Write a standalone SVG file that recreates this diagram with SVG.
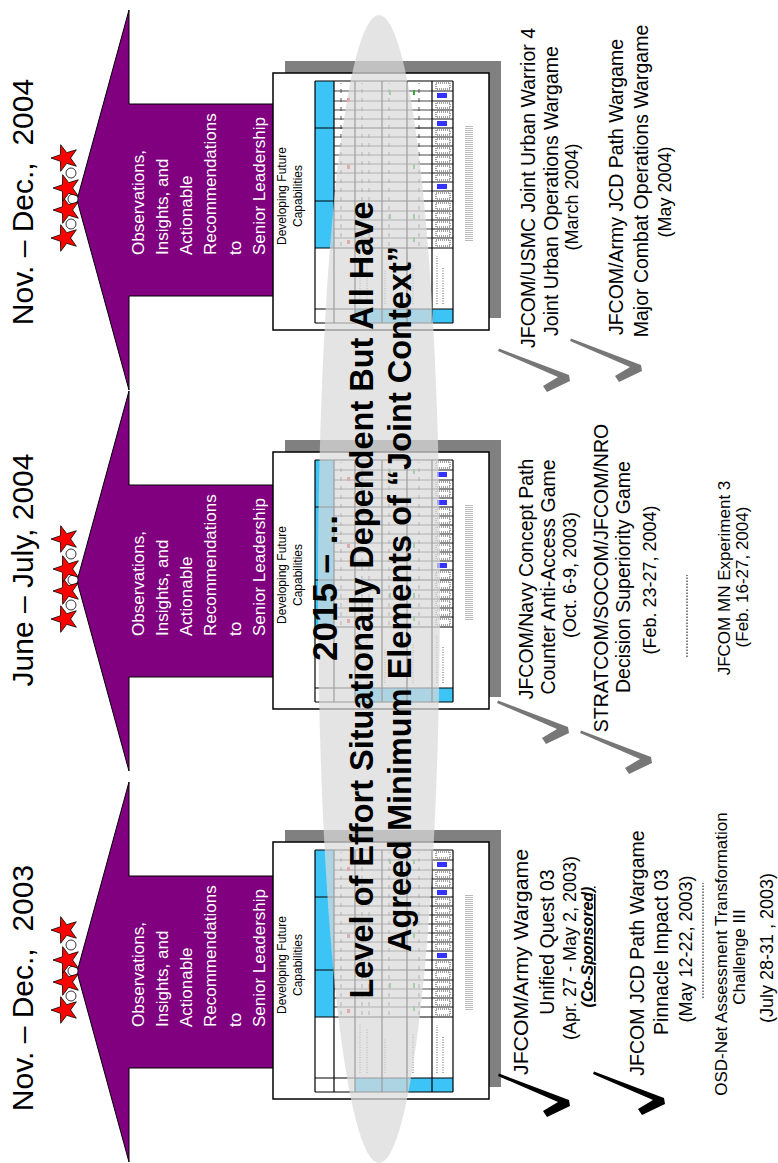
<svg xmlns="http://www.w3.org/2000/svg" width="778" height="1163" viewBox="0 0 778 1163">
<style>
  .date{font-family:'Liberation Sans',Arial,sans-serif;font-size:30px;fill:#000;text-anchor:middle}
  .arrow{fill:#800080;stroke:#000;stroke-width:1}
  .atxt{font-family:'Liberation Sans',Arial,sans-serif;font-size:17px;fill:#fff}
  .star{fill:#f00;stroke:#000;stroke-width:0.8}
  .dot{fill:#fff;stroke:#000;stroke-width:0.8}
  .title{font-family:'Liberation Sans',Arial,sans-serif;font-size:12px;fill:#000;text-anchor:middle}
  .evt{font-family:'Liberation Sans',Arial,sans-serif;font-size:19.5px;fill:#000;text-anchor:middle}
  .sm{font-size:18px}
  .xs{font-size:17px}
  .cosp{font-weight:bold;font-style:italic;font-size:16px;text-decoration:underline}
  .big{font-family:'Liberation Sans',Arial,sans-serif;font-weight:bold;font-size:32.5px;fill:#000;text-anchor:middle}
  .sep{stroke:#000;stroke-width:1;stroke-dasharray:1.5 1.5;fill:none}
  .tick-k{fill:#000}
  .tick-g{fill:#777}
</style>
<defs>
  <polygon id="star" points="0,-14 3.29,-4.53 13.31,-4.33 5.33,1.73 8.23,11.33 0,5.6 -8.23,11.33 -5.33,1.73 -13.31,-4.33 -3.29,-4.53"/>
  <path id="tick" d="M29,-70L31.5,-69L5,1L-1,2L-12,-21L-6,-25L3,-10Z"/>
  <!-- spreadsheet thumbnail card with drop shadow -->
  <g id="sheet">
    <rect x="12" y="12" width="257" height="216" fill="#808080"/>
    <rect width="257" height="216" fill="#fff" stroke="#000" stroke-width="1.5"/>
    <rect x="82" y="42" width="167" height="19" fill="#3cc4f6"/>
    <rect x="7" y="82" width="14" height="98" fill="#3cc4f6"/>
    <path d="M26 87H76M26 94H70M26 112H60M26 134H78M26 140H66M26 164H74M26 170H62" stroke="#777" stroke-width="1.2" stroke-dasharray="1 1.5" fill="none"/>
    <path d="M84 68H247M84 89H247M84 96H200M84 116H247M84 146H247" stroke="#aaa" stroke-width="2" stroke-dasharray="4 5" fill="none"/>
    <path d="M92 61V159M101 61V159M110 61V159M119 61V159M139 61V159M148 61V159M157 61V159M166 61V159M175 61V159M184 61V159M193 61V159M211 61V159M220 61V159M229 61V159M239 61V159" stroke="#333" stroke-width="0.9" fill="none"/>
    <path d="M92 159V180M101 159V180M110 159V180M119 159V180M139 159V180M148 159V180M157 159V180M166 159V180M175 159V180M184 159V180M193 159V180M211 159V180M220 159V180M229 159V180M239 159V180" stroke="#000" stroke-width="0.9" fill="none"/>
    <path d="M84 163H90V177H84ZM94 163H99V177H94ZM103 163H108V177H103ZM112 163H117V177H112ZM121 163H127V177H121ZM131 163H137V177H131ZM150 163H155V177H150ZM159 163H164V177H159ZM168 163H173V177H168ZM177 163H182V177H177ZM186 163H191V177H186ZM195 163H200V177H195ZM213 163H218V177H213ZM222 163H227V177H222ZM241 163H247V177H241Z" fill="none" stroke="#333" stroke-width="0.9" stroke-dasharray="1 1"/>
    <path d="M7 42H249M7 61H249M7 82H249M7 109H249M7 134H249M7 159H249M7 180H249M7 42V180M21 42V180M82 42V180M129 42V180M202 42V180M249 42V180" stroke="#000" stroke-width="1.2" fill="none"/>
    <g fill="#e33">
      <rect x="86" y="74" width="4" height="3"/><rect x="161" y="74" width="4" height="3"/><rect x="228" y="74" width="4" height="3"/>
    </g>
    <g fill="#3a3">
      <rect x="88" y="140" width="5" height="2"/><rect x="111" y="140" width="5" height="2"/><rect x="161" y="140" width="5" height="2"/><rect x="235" y="140" width="5" height="2"/>
      <rect x="111" y="116" width="5" height="2"/><rect x="235" y="116" width="5" height="2"/>
    </g>
    <g fill="#33f">
      <rect x="141" y="164" width="5" height="10"/><rect x="204" y="164" width="5" height="10"/><rect x="232" y="164" width="5" height="10"/>
    </g>
    <path d="M89 196H204" stroke="#bbb" stroke-width="8" stroke-dasharray="1 1" fill="none"/>
  </g>
</defs>

<!-- landscape layout, turned a quarter turn counter-clockwise onto the page -->
<g transform="translate(0,1163) rotate(-90)">

  <!-- milestone: Nov.-Dec. 2003 -->
  <g id="milestone-2003">
    <text class="date" x="175" y="33" xml:space="preserve">Nov. – Dec.,  2003</text>
    <polygon class="arrow" points="95,275 95,129 1,129 191,77 381,129 287,129 287,275"/>
    <circle class="dot" cx="167" cy="71" r="5"/><circle class="dot" cx="192" cy="73" r="5"/><circle class="dot" cx="218" cy="71" r="5"/>
    <use href="#star" class="star" x="153" y="65"/><use href="#star" class="star" x="181" y="67"/>
    <use href="#star" class="star" x="203" y="67"/><use href="#star" class="star" x="233" y="65"/>
    <text class="atxt" x="136" y="144">Observations,</text>
    <text class="atxt" x="136" y="168">Insights, and</text>
    <text class="atxt" x="136" y="192">Actionable</text>
    <text class="atxt" x="136" y="216">Recommendations</text>
    <text class="atxt" x="136" y="241">to</text>
    <text class="atxt" x="136" y="265">Senior Leadership</text>
  </g>

  <!-- milestone: June-July 2004 -->
  <g id="milestone-2004a">
    <text class="date" x="593" y="33">June – July, 2004</text>
    <polygon class="arrow" points="486,275 486,129 392,129 582,77 772,129 678,129 678,275"/>
    <circle class="dot" cx="558" cy="71" r="5"/><circle class="dot" cx="583" cy="73" r="5"/><circle class="dot" cx="609" cy="71" r="5"/>
    <use href="#star" class="star" x="544" y="65"/><use href="#star" class="star" x="572" y="67"/>
    <use href="#star" class="star" x="594" y="67"/><use href="#star" class="star" x="624" y="65"/>
    <text class="atxt" x="527" y="144">Observations,</text>
    <text class="atxt" x="527" y="168">Insights, and</text>
    <text class="atxt" x="527" y="192">Actionable</text>
    <text class="atxt" x="527" y="216">Recommendations</text>
    <text class="atxt" x="527" y="241">to</text>
    <text class="atxt" x="527" y="265">Senior Leadership</text>
  </g>

  <!-- milestone: Nov.-Dec. 2004 -->
  <g id="milestone-2004b">
    <text class="date" x="961" y="33" xml:space="preserve">Nov. – Dec.,  2004</text>
    <polygon class="arrow" points="867,275 867,129 773,129 963,77 1153,129 1059,129 1059,275"/>
    <circle class="dot" cx="939" cy="71" r="5"/><circle class="dot" cx="964" cy="73" r="5"/><circle class="dot" cx="990" cy="71" r="5"/>
    <use href="#star" class="star" x="925" y="65"/><use href="#star" class="star" x="953" y="67"/>
    <use href="#star" class="star" x="975" y="67"/><use href="#star" class="star" x="1005" y="65"/>
    <text class="atxt" x="908" y="144">Observations,</text>
    <text class="atxt" x="908" y="168">Insights, and</text>
    <text class="atxt" x="908" y="192">Actionable</text>
    <text class="atxt" x="908" y="216">Recommendations</text>
    <text class="atxt" x="908" y="241">to</text>
    <text class="atxt" x="908" y="265">Senior Leadership</text>
  </g>

  <!-- capability worksheets -->
  <g id="sheet-2003">
    <use href="#sheet" transform="translate(64,273)"/>
    <text class="title" x="198" y="286">Developing Future</text>
    <text class="title" x="198" y="302">Capabilities</text>
  </g>
  <g id="sheet-2004a">
    <use href="#sheet" transform="translate(454,273)"/>
    <text class="title" x="588" y="286">Developing Future</text>
    <text class="title" x="588" y="302">Capabilities</text>
  </g>
  <g id="sheet-2004b">
    <use href="#sheet" transform="translate(833,273)"/>
    <text class="title" x="967" y="286">Developing Future</text>
    <text class="title" x="967" y="302">Capabilities</text>
  </g>

  <!-- translucent band across all three worksheets -->
  <g id="band">
    <ellipse cx="574" cy="379" rx="574" ry="61" fill="#d9d9d9" fill-opacity="0.72"/>
    <text class="big" x="575" y="337" style="font-size:35px">2015 – ...</text>
    <text class="big" x="563" y="373">Level of Effort Situationally Dependent But All Have</text>
    <text class="big" x="564" y="411">Agreed Minimum Elements of “Joint Context”</text>
  </g>

  <!-- events feeding each milestone -->
  <g id="events-2003">
    <text class="evt" x="201" y="528" textLength="226" lengthAdjust="spacingAndGlyphs">JFCOM/Army Wargame</text>
    <text class="evt" x="221" y="554">Unified Quest 03</text>
    <text class="evt sm" x="215" y="576">(Apr. 27 - May 2, 2003)</text>
    <text class="evt cosp" x="216" y="593">(Co-Sponsored)</text>
    <text class="evt" x="210" y="644">JFCOM JCD Path Wargame</text>
    <text class="evt" x="211" y="668">Pinnacle Impact 03</text>
    <text class="evt sm" x="214" y="692">(May 12-22, 2003)</text>
    <path class="sep" d="M165 703H280"/>
    <text class="evt xs" x="209" y="727">OSD-Net Assessment Transformation</text>
    <text class="evt xs" x="206" y="745">Challenge III</text>
    <text class="evt sm" x="215" y="773">(July 28-31 , 2003)</text>
  </g>
  <g id="events-2004a">
    <text class="evt" x="584" y="533">JFCOM/Navy Concept Path</text>
    <text class="evt" x="586" y="555">Counter Anti-Access Game</text>
    <text class="evt sm" x="588" y="576">(Oct. 6-9, 2003)</text>
    <text class="evt" x="585" y="608">STRATCOM/SOCOM/JFCOM/NRO</text>
    <text class="evt" x="586" y="630">Decision Superiority Game</text>
    <text class="evt sm" x="583" y="656">(Feb. 23-27, 2004)</text>
    <path class="sep" d="M506 687H588"/>
    <text class="evt xs" x="585" y="730">JFCOM MN Experiment 3</text>
    <text class="evt xs" x="586" y="748">(Feb. 16-27, 2004)</text>
  </g>
  <g id="events-2004b">
    <text class="evt" x="975" y="535">JFCOM/USMC Joint Urban Warrior 4</text>
    <text class="evt" x="972" y="558">Joint Urban Operations Wargame</text>
    <text class="evt sm" x="966" y="578">(March 2004)</text>
    <text class="evt" x="976" y="623">JFCOM/Army JCD Path Wargame</text>
    <text class="evt" x="982" y="648">Major Combat Operations Wargame</text>
    <text class="evt sm" x="971" y="671">(May 2004)</text>
  </g>

  <!-- check marks beside each event -->
  <g id="connectors">
    <use href="#tick" class="tick-k" x="58" y="568"/>
    <use href="#tick" class="tick-k" x="60" y="663"/>
    <use href="#tick" class="tick-g" x="431" y="567"/>
    <use href="#tick" class="tick-g" x="401" y="650"/>
    <use href="#tick" class="tick-g" x="783" y="568"/>
    <use href="#tick" class="tick-g" x="793" y="640"/>
  </g>
</g>
</svg>
